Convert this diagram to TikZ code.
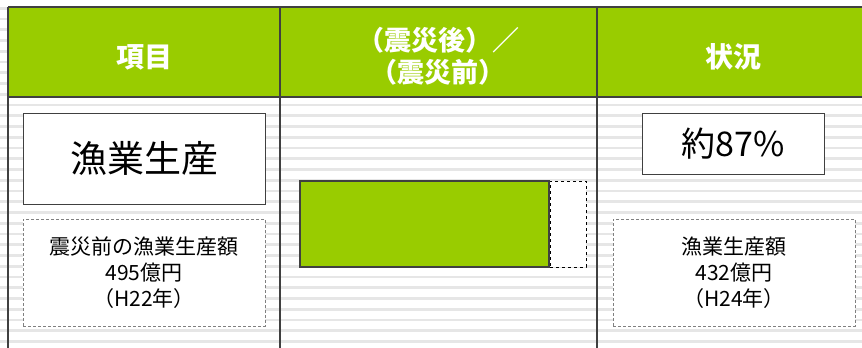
\documentclass[tikz,border=0pt]{standalone}
\usepackage{fontspec}
\setmainfont{Noto Sans CJK JP}
\usepackage{xcolor}
\usepackage{tikz}
\usetikzlibrary{positioning}

\definecolor{headgreen}{HTML}{99CC00}
\definecolor{stripegray}{HTML}{E6E6E6}
\definecolor{linegray}{HTML}{404040}

\begin{document}
\begin{tikzpicture}[x=1pt, y=-1pt,
  headtext/.style={text=white, font=\bfseries\fontsize{28}{32}\selectfont, align=center},
  mainbox/.style={draw=linegray, fill=white, line width=0.9pt, inner sep=0pt},
  notebox/.style={draw=gray, fill=white, densely dashed, line width=0.6pt, inner sep=0pt, align=center, font=\fontsize{21}{26}\selectfont}]
\useasboundingbox (0,0) rectangle (862,348);

% background stripes
\foreach \i in {0,...,31}
  \fill[stripegray] (0,{8.25+10.75*\i-1.4}) rectangle (862,{8.25+10.75*\i+1.4});
\fill[white] (0,0) rectangle (862,7);

% header row
\fill[headgreen] (8,7) rectangle (862,97);
\draw[linegray, line width=1.3pt] (8,7) -- (862,7);
\draw[linegray, line width=1.3pt] (8,97) -- (862,97);
\foreach \x in {8,280,597}
  \draw[linegray, line width=1.3pt] (\x,7) -- (\x,348);

\node[headtext] (head_item) at (144,57) {項目};
\node[headtext, font=\bfseries\fontsize{27}{32}\selectfont] (head_ratio) at (438,56) {（震災後）／\\（震災前）};
\node[headtext] (head_state) at (733,57) {状況};

% left column
\node[mainbox, minimum width=242pt, minimum height=91pt, font=\fontsize{37}{40}\selectfont] (item) at (144,158.5) {漁業生産};
\node[notebox, minimum width=242pt, minimum height=107pt] (before) at (144,272.5) {震災前の漁業生産額\\495億円\\（H22年）};

% middle column
\node[draw=linegray, fill=headgreen, line width=1.2pt, minimum width=249pt, minimum height=86pt] (bar) at (424.5,224) {};
\node[draw=black, fill=white, dashed, line width=0.8pt, minimum width=36pt, minimum height=86pt, right=0pt of bar] (gap) {};

% right column
\node[mainbox, minimum width=182pt, minimum height=61pt, font=\fontsize{34}{36}\selectfont] (ratio) at (733,143.5) {約87\%};
\node[notebox, minimum width=242pt, minimum height=107pt] (after) at (734,272.5) {漁業生産額\\432億円\\（H24年）};

\end{tikzpicture}
\end{document}
